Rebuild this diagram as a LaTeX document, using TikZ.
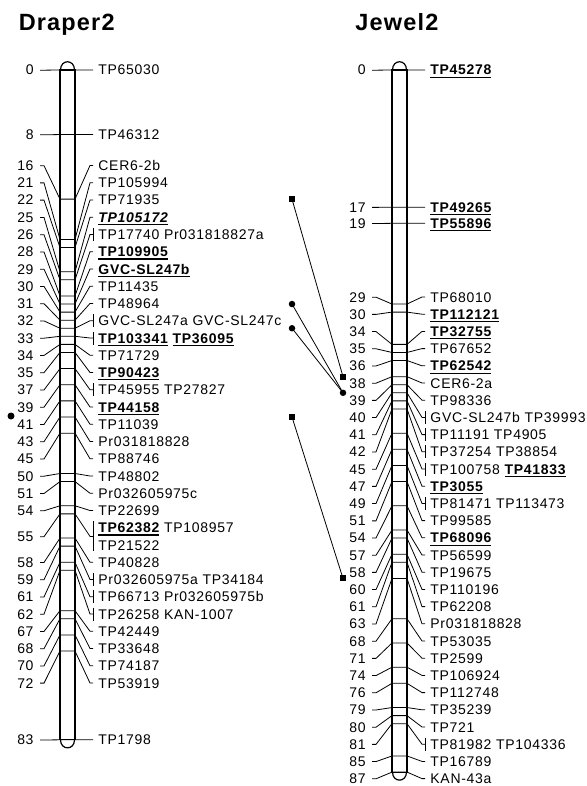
\documentclass[tikz,border=0pt]{standalone}
\usepackage{fontspec}
\setmainfont{Liberation Sans}[LetterSpace=5]
\usetikzlibrary{calc}

\newcommand\ulb[1]{\setbox0\hbox{\bfseries #1}\rlap{\rule[-2.8pt]{\wd0}{1.1pt}}\box0\relax}
\newcommand\ulbi[1]{\setbox0\hbox{\bfseries\itshape #1}\rlap{\rule[-2.8pt]{\wd0}{1.1pt}}\box0\relax}

\begin{document}
\begin{tikzpicture}[x=1pt, y=-1pt, line width=0.9pt,
    num/.style={anchor=base east, inner sep=0pt, font=\fontsize{14}{16}\selectfont},
    lbl/.style={anchor=base west, inner sep=0pt, font=\fontsize{14}{16}\selectfont},
    ttl/.style={anchor=base west, inner sep=0pt, font=\fontsize{23.5}{26}\selectfont\bfseries},
    chrom/.style={line width=1.2pt},
    conn/.style={line width=0.8pt},
    brk/.style={line width=1pt},
    link/.style={line width=0.8pt},
    sq/.style={fill, minimum size=6pt, inner sep=0pt},
    dot/.style={circle, fill, minimum size=6.5pt, inner sep=0pt}]
    \useasboundingbox (0,0) rectangle (586,786);

    \node[ttl] (tdr) at (18.3,31) {Draper2};
    \node[ttl] (tjw) at (355,31) {Jewel2};

    % Draper2
    \draw[chrom] (60,70) rectangle (75,739.8);
    \draw[chrom] (60.5,70) .. controls (60.5,59) and (74.5,59) .. (74.5,70);
    \draw[chrom] (60.5,739.8) .. controls (60.5,750.5) and (74.5,750.5) .. (74.5,739.8);
    \foreach \cm/\ly/\br/\txt [count=\i] in {0/70/0/TP65030, 8/134.6/0/TP46312,
        16/165.5/0/CER6-2b, 21/182.75/0/TP105994, 22/200/0/TP71935,
        25/217.25/0/{\ulbi{TP105172}}, 26/234.5/1/TP17740 Pr031818827a,
        28/251.75/0/{\ulb{TP109905}}, 29/269/0/{\ulb{GVC-SL247b}},
        30/286.25/0/TP11435, 31/303.5/0/TP48964,
        32/320.75/1/GVC-SL247a GVC-SL247c, 33/338/1/{\ulb{TP103341} \ulb{TP36095}},
        34/355.25/0/TP71729, 35/372.5/0/{\ulb{TP90423}}, 37/389.75/1/TP45955 TP27827,
        39/407/0/{\ulb{TP44158}}, 41/424.25/0/TP11039, 43/441.5/0/Pr031818828,
        45/458.75/0/TP88746, 50/476/0/TP48802, 51/493.25/0/Pr032605975c,
        54/510.5/0/TP22699, 58/562.25/0/TP40828,
        59/579.5/1/Pr032605975a TP34184, 61/596.75/1/TP66713 Pr032605975b,
        62/614/1/TP26258 KAN-1007, 67/631.25/0/TP42449, 68/648.5/0/TP33648,
        70/665.75/0/TP74187, 72/683/0/TP53919, 83/739.8/0/TP1798} {
        \pgfmathsetmacro\ty{70+8.07*\cm}
        \coordinate (dl\i) at (60,\ty);
        \coordinate (dr\i) at (75,\ty);
        \coordinate (ds\i) at (93,\ly);
        \node[num] (dn\i) at (34,\ly+5) {\cm};
        \node[lbl] (dt\i) at (98,\ly+5) {\txt};
        \draw[conn] (dn\i.east) ++(6,0) -- ++(4,0) -- (dl\i) -- (dr\i) -- ([xshift=-3pt]ds\i) -- (ds\i);
        \ifnum\br=1 \draw[brk] (ds\i) ++(0,-6.5) -- ++(0,13); \fi
    }
    \pgfmathsetmacro\ty{70+8.07*55}
    \coordinate (dlx) at (60,\ty);
    \coordinate (drx) at (75,\ty);
    \coordinate (dsx) at (93,536.4);
    \node[num] (dnx) at (34,541.4) {55};
    \node[lbl] (dtx) at (98,532.75) {\ulb{TP62382} TP108957};
    \node[lbl] (dty) at (98,550) {TP21522};
    \draw[conn] (dnx.east) ++(6,0) -- ++(4,0) -- (dlx) -- (drx) -- ([xshift=-3pt]dsx) -- (dsx);
    \draw[brk] (dsx) ++(0,-15) -- ++(0,30);
    \node[dot, minimum size=7pt] (qd) at (11,416) {};

    % Jewel2
    \draw[chrom] (392,70) rectangle (407,772.1);
    \draw[chrom] (392.5,70) .. controls (392.5,59) and (406.5,59) .. (406.5,70);
    \draw[chrom] (392.5,772.1) .. controls (392.5,782.8) and (406.5,782.8) .. (406.5,772.1);
    \foreach \cm/\ly/\br/\txt [count=\i] in {0/70/0/{\ulb{TP45278}},
        17/207.2/0/{\ulb{TP49265}}, 19/223.3/0/{\ulb{TP55896}},
        29/297/0/TP68010, 30/314.2/0/{\ulb{TP112121}}, 34/331.4/0/{\ulb{TP32755}},
        35/348.6/0/TP67652, 36/365.8/0/{\ulb{TP62542}}, 38/383/0/CER6-2a,
        39/400.2/0/TP98336, 40/417.4/1/GVC-SL247b TP39993,
        41/434.6/1/TP11191 TP4905, 42/451.8/1/TP37254 TP38854,
        45/469/1/{TP100758 \ulb{TP41833}}, 47/486.2/0/{\ulb{TP3055}},
        49/503.4/1/TP81471 TP113473, 51/520.6/0/TP99585, 54/537.8/0/{\ulb{TP68096}},
        57/555/0/TP56599, 58/572.2/0/TP19675, 60/589.4/0/TP110196,
        61/606.6/0/TP62208, 63/623.8/0/Pr031818828, 68/641/0/TP53035,
        71/658.2/0/TP2599, 74/675.4/0/TP106924, 76/692.6/0/TP112748,
        79/709.8/0/TP35239, 80/727/0/TP721, 81/744.2/1/TP81982 TP104336,
        85/761.4/0/TP16789, 87/778.6/0/KAN-43a} {
        \pgfmathsetmacro\ty{70+8.07*\cm}
        \coordinate (jl\i) at (392,\ty);
        \coordinate (jr\i) at (407,\ty);
        \coordinate (js\i) at (425,\ly);
        \node[num] (jn\i) at (366,\ly+5) {\cm};
        \node[lbl] (jt\i) at (430,\ly+5) {\txt};
        \draw[conn] (jn\i.east) ++(6,0) -- ++(4,0) -- (jl\i) -- (jr\i) -- ([xshift=-3pt]js\i) -- (js\i);
        \ifnum\br=1 \draw[brk] (js\i) ++(0,-6.5) -- ++(0,13); \fi
    }

    % links between the maps
    \coordinate (lkl) at (292,0);
    \coordinate (lkr) at (343,0);
    \node[sq] (ka) at (dl3 -| lkl) {};
    \node[sq] (kb) at (jl9 -| lkr) {};
    \node[dot] (kc) at (dl9 -| lkl) {};
    \node[dot] (kd) at (dl12 -| lkl) {};
    \node[dot] (ke) at (jl11 -| lkr) {};
    \node[sq] (kf) at (dl19 -| lkl) {};
    \node[sq] (kg) at (jl23 -| lkr) {};
    \draw[link] (ka.center) -- (kb.center);
    \draw[link] (kc.center) -- (ke.center);
    \draw[link] (kd.center) -- (ke.center);
    \draw[link] (kf.center) -- (kg.center);
\end{tikzpicture}
\end{document}
